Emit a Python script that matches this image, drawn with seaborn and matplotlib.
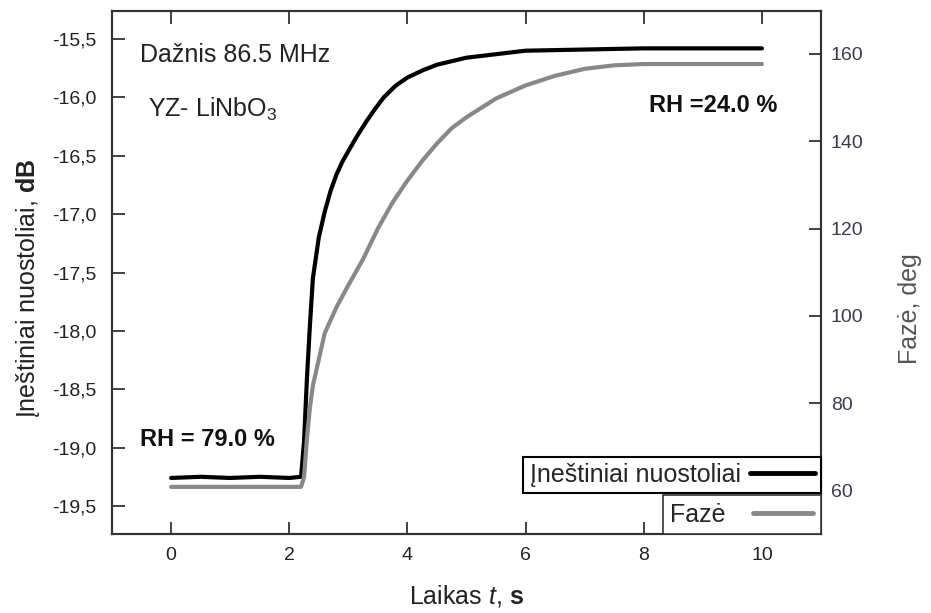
import matplotlib
matplotlib.use("Agg")
import matplotlib.pyplot as plt
import seaborn as sns
import pandas as pd
from matplotlib.lines import Line2D

# ---- data ----
t_db = [0.0, 0.5, 1.0, 1.5, 2.0, 2.2, 2.25, 2.3, 2.35, 2.4, 2.5, 2.6, 2.7, 2.8, 2.9,
        3.0, 3.15, 3.3, 3.45, 3.6, 3.8, 4.0, 4.25, 4.5, 4.75, 5.0, 5.5, 6.0, 6.5,
        7.0, 7.5, 8.0, 8.5, 9.0, 9.5, 10.0]
loss_db = [-19.26, -19.25, -19.26, -19.25, -19.26, -19.25, -18.95, -18.4, -17.95, -17.55,
           -17.2, -16.98, -16.8, -16.66, -16.55, -16.46, -16.33, -16.21, -16.1, -16.0,
           -15.9, -15.83, -15.77, -15.72, -15.69, -15.66, -15.63, -15.60, -15.595,
           -15.59, -15.585, -15.58, -15.58, -15.58, -15.58, -15.58]

t_ph = [0.0, 0.5, 1.0, 1.5, 2.0, 2.2, 2.25, 2.3, 2.35, 2.4, 2.5, 2.6, 2.8, 3.0, 3.25,
        3.5, 3.75, 4.0, 4.25, 4.5, 4.75, 5.0, 5.5, 6.0, 6.5, 7.0, 7.5, 8.0, 8.5,
        9.0, 9.5, 10.0]
phase_deg = [60.8, 60.8, 60.8, 60.8, 60.8, 60.8, 63.0, 72.0, 79.0, 84.0, 90.0, 96.0,
             102.0, 107.0, 113.0, 120.0, 126.0, 131.0, 135.5, 139.5, 143.0, 145.5,
             149.8, 152.8, 155.0, 156.6, 157.4, 157.7, 157.7, 157.7, 157.7, 157.7]

x_ticks = [0, 2, 4, 6, 8, 10]
y_left_ticks = [-15.5, -16.0, -16.5, -17.0, -17.5, -18.0, -18.5, -19.0, -19.5]
y_right_ticks = [60, 80, 100, 120, 140, 160]

sns.set_style("ticks")
plt.rcParams['font.family'] = ['Liberation Sans', 'DejaVu Sans']
plt.rcParams['mathtext.fontset'] = 'custom'
plt.rcParams['mathtext.rm'] = 'Liberation Sans'
plt.rcParams['mathtext.it'] = 'Liberation Sans:italic'
plt.rcParams['mathtext.bf'] = 'Liberation Sans:bold'

df_db = pd.DataFrame({"t": t_db, "v": loss_db})
df_ph = pd.DataFrame({"t": t_ph, "v": phase_deg})

fig = plt.figure(figsize=(9.31, 6.13), dpi=100)
ax = fig.add_axes([112/931, 1-534/613, (821-112)/931, (534-11)/613])
ax2 = ax.twinx()

sns.lineplot(data=df_db, x="t", y="v", ax=ax, color="black", linewidth=3, legend=False)
sns.lineplot(data=df_ph, x="t", y="v", ax=ax2, color="#888888", linewidth=3, legend=False)

ax.set_xlim(-1, 11)
ax.set_ylim(-19.74, -15.26)
ax2.set_ylim(50.0, 169.85)

ax.set_xticks(x_ticks)
ax.set_xticklabels([str(v) for v in x_ticks])
ax.set_yticks(y_left_ticks)
ax.set_yticklabels([f"{v:.1f}".replace('.', ',') for v in y_left_ticks])
ax2.set_yticks(y_right_ticks)

frame_c = "#333333"
for a in (ax, ax2):
    for s in a.spines.values():
        s.set_color(frame_c)
        s.set_linewidth(1.5)
        s.set_visible(True)

ax.tick_params(axis='x', direction='in', length=9, width=1.3, color=frame_c,
               labelsize=14, labelcolor='#222222', top=True, pad=9)
ax.tick_params(axis='y', direction='in', length=9, width=1.3, color=frame_c,
               labelsize=14, labelcolor='#222222', right=False, pad=11)
ax2.tick_params(axis='y', direction='in', length=9, width=1.3, color=frame_c,
                labelsize=14, labelcolor='#3a3a55', pad=7)

ax.set_xlabel("Laikas $\\mathit{t}$, $\\mathbf{s}$", fontsize=18, color='#222222', labelpad=14)
ax.set_ylabel("Įneštiniai nuostoliai, $\\mathbf{dB}$", fontsize=18, color='#222222')
ax.yaxis.set_label_coords(-0.099, 0.47)
ax2.set_ylabel("Fazė, deg", fontsize=18, color='#555555')
ax2.yaxis.set_label_coords(1.108, 0.43)

ax.text(0.039, 0.916, "Dažnis 86.5 MHz", transform=ax.transAxes, fontsize=18,
        va='center', ha='left', color='#222222')
ax.text(0.051, 0.811, "YZ- LiNbO$_3$", transform=ax.transAxes, fontsize=18,
        va='center', ha='left', color='#222222')
ax.text(0.039, 0.18, "RH = 79.0 %", transform=ax.transAxes, fontsize=17,
        va='center', ha='left', fontweight='bold', color='#111111')
ax.text(0.939, 0.82, "RH =24.0 %", transform=ax.transAxes, fontsize=17,
        va='center', ha='right', fontweight='bold', color='#111111')

# legends
h1 = Line2D([], [], color='black', linewidth=3.5)
h2 = Line2D([], [], color='#888888', linewidth=3.5)
leg1 = ax2.legend([h1], ["Įneštiniai nuostoliai"], loc='lower right',
                  bbox_to_anchor=(1.0, 0.078), borderaxespad=0, markerfirst=False,
                  fancybox=False, edgecolor='black', framealpha=1, fontsize=18,
                  handlelength=2.6, handletextpad=0.36, borderpad=0.25)
leg1.get_frame().set_linewidth(1.5)
ax2.add_artist(leg1)
leg2 = ax2.legend([h2], ["Fazė"], loc='lower right',
                  bbox_to_anchor=(1.0, 0.0), borderaxespad=0, markerfirst=False,
                  fancybox=False, edgecolor=frame_c, framealpha=1, fontsize=18,
                  handlelength=2.4, handletextpad=1.1, borderpad=0.3)
leg2.get_frame().set_linewidth(1.2)

fig.savefig("out.png", dpi=100)
